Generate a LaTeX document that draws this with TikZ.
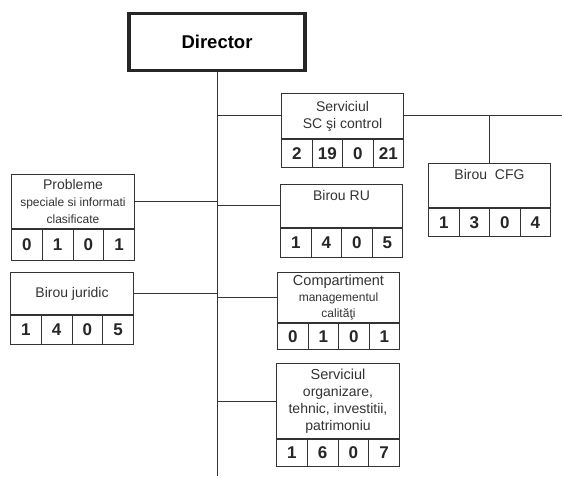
\documentclass[tikz,border=0pt]{standalone}
\usepackage{fontspec}
\setmainfont{Liberation Sans}
\definecolor{linegray}{rgb}{0.2,0.2,0.2}

% one department: name, north west corner, width, text height, cell height, text, numbers
\newcommand\dept[7]{%
  \node[unit, minimum width=#3, minimum height=#4, anchor=north west] (#1) at (#2) {#6};
  \foreach \v [count=\i] in {#7}
    \node[cell, minimum width=#3/4, minimum height=#5, anchor=north west] (#1-\i)
      at ([xshift={(\i-1)*#3/4}]#1.south west) {\v};
}

\begin{document}
\begin{tikzpicture}[x=1pt, y=-1pt, line width=1pt, draw=linegray,
  boss/.style = {shape=rectangle, draw=black!85, line width=3.5pt, align=center, fill=white, minimum width=176, minimum height=57, font=\fontsize{18.5}{20}\selectfont\bfseries},
  unit/.style = {shape=rectangle, draw=linegray, align=center, fill=white, inner sep=1pt, font=\fontsize{14}{17}\selectfont, text=black!80},
  cell/.style = {shape=rectangle, draw=linegray, align=center, fill=white, inner sep=0pt, font=\fontsize{17}{18}\selectfont\bfseries, text=black!85},
  link/.style = {draw=linegray, line width=1pt}]
  \useasboundingbox (0,0) rectangle (562,478);

  \node[boss] (dir) at (217,42) {Director};
  \coordinate (trunk) at (217,476);
  \coordinate (edge) at (562,117);

  \dept{sc}{281,93}{122}{45}{28}{Serviciul\\SC şi control}{2,19,0,21}
  \dept{cfg}{428,163}{122}{44}{28}{Birou\ \ CFG\\ \strut}{1,3,0,4}
  \dept{ru}{280,184}{122}{43}{29}{Birou RU\\ \strut}{1,4,0,5}
  \dept{comp}{277,272}{122}{50}{26}{{\fontsize{14.5}{16}\selectfont Compartiment}\\[-1pt]{\fontsize{12}{14}\selectfont managementul}\\[-1pt]{\fontsize{12}{14}\selectfont calităţi}}{0,1,0,1}
  \dept{org}{276,363}{123}{75}{27}{\fontsize{14.5}{17}\selectfont Serviciul\\organizare,\\tehnic, investitii,\\patrimoniu}{1,6,0,7}
  \dept{prob}{11,174}{123}{54}{31}{{\fontsize{14}{16}\selectfont Probleme}\\{\fontsize{12}{14}\selectfont speciale si informati}\\{\fontsize{12}{14}\selectfont clasificate}}{0,1,0,1}
  \dept{jur}{10,272}{123}{42}{29}{Birou juridic}{1,4,0,5}

  % connectors
  \draw[link] (dir.south) -- (trunk);
  \draw[link] (sc.west) -- (sc.west -| dir.south);
  \draw[link] (sc.east) -- (sc.east -| edge);
  \draw[link] (cfg.north) -- (cfg.north |- sc.east);
  \draw[link] (ru.west) -- (ru.west -| dir.south);
  \draw[link] (comp.west) -- (comp.west -| dir.south);
  \draw[link] (org.west) -- (org.west -| dir.south);
  \draw[link] (prob.east) -- (prob.east -| dir.south);
  \draw[link] (jur.east) -- (jur.east -| dir.south);
\end{tikzpicture}
\end{document}
